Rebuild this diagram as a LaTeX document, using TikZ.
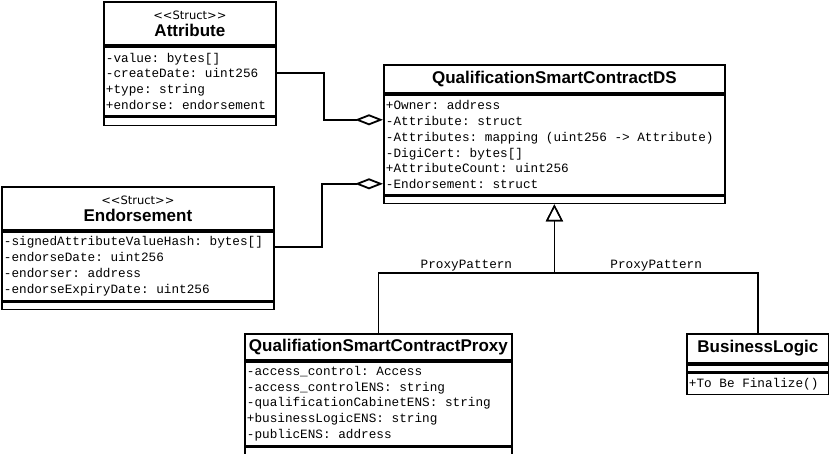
\documentclass[tikz,border=0pt]{standalone}
\usepackage{fontspec}
\usetikzlibrary{arrows.meta,calc}
\newfontfamily\umlmono{Liberation Mono}
\newfontfamily\umlsans{Liberation Sans}
\newfontfamily\umlstereo{DejaVu Sans}
\newcommand{\stereo}[1]{{\umlstereo\fontsize{11.5}{13}\selectfont #1}}
\newcommand{\clsname}[1]{{\umlsans\bfseries\fontsize{17}{18}\selectfont #1}}
\tikzset{
	part/.style={draw, line width=1.8pt, rectangle, anchor=north west, inner sep=0pt},
	titlepart/.style={part, align=center, font=\fontsize{12}{17}\selectfont},
	fieldpart/.style={part, align=flush left, inner xsep=2pt, font=\umlmono\fontsize{12.7}{15.7}\selectfont},
	aggr/.style={line width=1.8pt, -{Diamond[open, length=28pt, width=11pt, line width=1.8pt]}},
	gen/.style={line width=1.8pt, -{Triangle[open, length=17pt, width=17pt, line width=1.4pt]}},
	patternlabel/.style={font=\umlmono\fontsize{12.7}{15}\selectfont, above, inner sep=1pt}
}

\begin{document}
\frenchspacing
\begin{tikzpicture}[x=1pt, y=-1pt]
	\useasboundingbox (0,0) rectangle (829,454);
	%%%%% STRUCTS %%%%%
	\node[titlepart, minimum width=172pt, minimum height=43pt] (attr-title) at (103,1) {\stereo{<{}<Struct>{}>}\\\clsname{Attribute}};
	\node[fieldpart, text width=168pt, minimum height=69pt] (attr-fields) at (attr-title.south west) {-value: bytes[]\\-createDate: uint256\\+type: string\\+endorse: endorsement};
	\node[part, minimum width=172pt, minimum height=8pt] (attr-ops) at (attr-fields.south west) {};
	
	\node[titlepart, minimum width=272pt, minimum height=43pt] (endo-title) at (1,186) {\stereo{<{}<Struct>{}>}\\\clsname{Endorsement}};
	\node[fieldpart, text width=268pt, minimum height=69pt] (endo-fields) at (endo-title.south west) {-signedAttributeValueHash: bytes[]\\-endorseDate: uint256\\-endorser: address\\-endorseExpiryDate: uint256};
	\node[part, minimum width=272pt, minimum height=7pt] (endo-ops) at (endo-fields.south west) {};
	
	%%%%% CONTRACTS %%%%%
	\node[titlepart, minimum width=341pt, minimum height=28pt] (ds-title) at (383,64) {\clsname{QualificationSmartContractDS}};
	\node[fieldpart, text width=337pt, minimum height=100pt] (ds-fields) at (ds-title.south west) {+Owner: address\\-Attribute: struct\\-Attributes: mapping (uint256 -> Attribute)\\-DigiCert: bytes[]\\+AttributeCount: uint256\\-Endorsement: struct};
	\node[part, minimum width=341pt, minimum height=7pt] (ds-ops) at (ds-fields.south west) {};
	
	\node[titlepart, minimum width=267pt, minimum height=26pt] (proxy-title) at (244,333) {\clsname{QualifiationSmartContractProxy}};
	\node[fieldpart, text width=263pt, minimum height=84pt] (proxy-fields) at (proxy-title.south west) {-access\_control: Access\\-access\_controlENS: string\\-qualificationCabinetENS: string\\+businessLogicENS: string\\-publicENS: address};
	\node[part, minimum width=267pt, minimum height=8pt] (proxy-ops) at (proxy-fields.south west) {};
	
	\node[titlepart, minimum width=142pt, minimum height=29pt] (bl-title) at (686,333) {\clsname{BusinessLogic}};
	\node[part, minimum width=142pt, minimum height=7pt] (bl-fields) at (bl-title.south west) {};
	\node[fieldpart, text width=138pt, minimum height=21pt] (bl-ops) at (bl-fields.south west) {+To Be Finalize()};
	
	%%%%% AGGREGATION %%%%%
	\coordinate (attr-port) at ($(attr-fields.north east)+(0,27)$);
	\coordinate (endo-port) at ($(endo-fields.north east)+(0,16)$);
	\coordinate (ds-attr-port) at ($(ds-fields.north west)+(0,26)$);
	\coordinate (ds-endo-port) at ($(ds-fields.north west)+(0,90)$);
	\draw[aggr] (attr-port) -- ++(47,0) |- (ds-attr-port);
	\draw[aggr] (endo-port) -- ++(47,0) |- (ds-endo-port);
	
	%%%%% PROXY PATTERN %%%%%
	\draw[gen] (proxy-title.north) -- ++(0,-60) -| node[patternlabel, pos=0.25] {ProxyPattern} (ds-ops.south);
	\draw[gen] (bl-title.north) -- ++(0,-60) -| node[patternlabel, pos=0.25] {ProxyPattern} (ds-ops.south);
\end{tikzpicture}
\end{document}
